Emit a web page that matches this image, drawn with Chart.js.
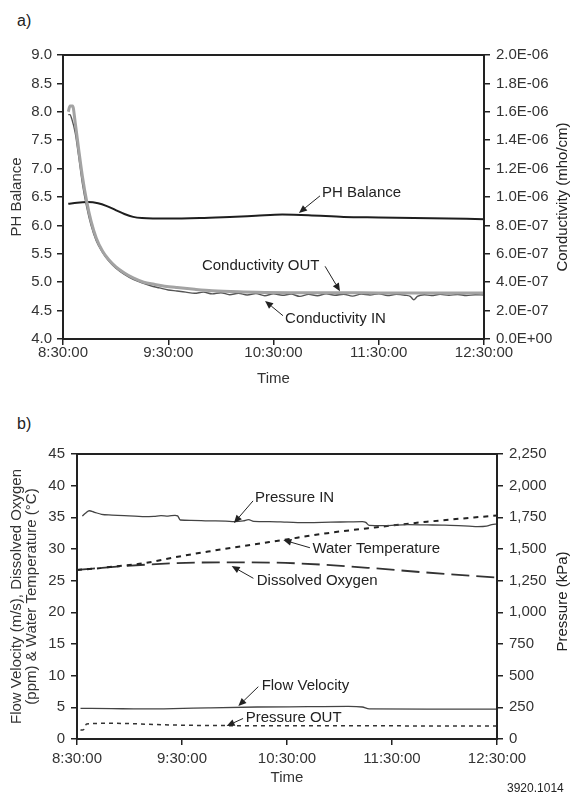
<!DOCTYPE html>
<html lang="en">
  <head>
    <meta charset="UTF-8" />
    <title>Water quality test run</title>
    <script src="https://cdn.jsdelivr.net/npm/chart.js"></script>
    <style>
      body { margin: 0; background: #fff; font-family: "Liberation Sans", Arial, sans-serif; color: #222; }
      .page { position: relative; width: 572px; height: 794px; overflow: hidden; }
      canvas { position: absolute; left: 0; }
      #chartA { top: 0; }
      #chartB { top: 395px; }
      .panel { position: absolute; left: 17px; font-size: 16px; line-height: 16px; }
      .code { position: absolute; left: 507px; top: 782px; font-size: 12px; line-height: 12px; white-space: nowrap; }
    </style>
  </head>
  <body>
    <div class="page">
      <div class="panel" style="top: 13px">a)</div>
      <canvas id="chartA" width="572" height="395"></canvas>
      <div class="panel" style="top: 416px">b)</div>
      <canvas id="chartB" width="572" height="399"></canvas>
      <div class="code">3920.1014</div>
    </div>

    <script>
      const FONT = "'Liberation Sans', Arial, sans-serif";

      // x values are minutes after 8:30:00
      const timeTickMinutes = [0, 60, 120, 180, 240];
      const timeTickLabels = ["8:30:00", "9:30:00", "10:30:00", "11:30:00", "12:30:00"];

      // ---- panel a ----
      const phMinutes = [3, 8, 14, 20, 25, 30, 35, 40, 45, 60, 78, 95, 110, 125, 140, 160, 180, 200, 220, 240];
      const phValues = [6.38, 6.4, 6.41, 6.39, 6.34, 6.27, 6.2, 6.15, 6.13, 6.12, 6.13, 6.15, 6.17, 6.19, 6.18, 6.15, 6.14, 6.13, 6.12, 6.11];

      // conductivity in 1E-06 mho/cm
      const condOutMinutes = [3, 4, 5.5, 7, 9, 11, 13.5, 16, 19, 22.5, 26, 30, 35, 40, 46, 52, 58, 65, 75, 85, 100, 115, 130, 150, 170, 190, 210, 225, 240];
      const condOutValues = [1.6, 1.64, 1.64, 1.52, 1.33, 1.15, 0.97, 0.83, 0.71, 0.62, 0.56, 0.51, 0.465, 0.43, 0.4, 0.385, 0.372, 0.362, 0.35, 0.34, 0.332, 0.328, 0.326, 0.325, 0.325, 0.324, 0.324, 0.324, 0.324];

      const condInMinutes = [3, 4, 5, 7, 9, 11, 13.5, 16, 19, 22.5, 26, 30, 35, 40, 45, 50, 55, 60, 65, 70, 75, 80, 85, 90, 95, 100, 105, 110, 115, 120, 125, 130, 135, 140, 145, 150, 155, 160, 165, 170, 175, 180, 185, 190, 195, 198, 200, 202, 206, 210, 215, 220, 225, 230, 235, 240];
      const condInValues = [1.58, 1.58, 1.55, 1.45, 1.28, 1.1, 0.93, 0.8, 0.69, 0.61, 0.55, 0.5, 0.455, 0.42, 0.395, 0.375, 0.36, 0.345, 0.338, 0.33, 0.322, 0.33, 0.318, 0.326, 0.312, 0.322, 0.31, 0.32, 0.305, 0.318, 0.308, 0.316, 0.3, 0.314, 0.305, 0.318, 0.308, 0.315, 0.302, 0.316, 0.31, 0.318, 0.306, 0.314, 0.308, 0.3, 0.276, 0.3, 0.312, 0.306, 0.314, 0.308, 0.313, 0.306, 0.312, 0.31];

      const condTickValues = [0, 2e-7, 4e-7, 6e-7, 8e-7, 1e-6, 1.2e-6, 1.4e-6, 1.6e-6, 1.8e-6, 2e-6];
      const condTickLabels = ["0.0E+00", "2.0E-07", "4.0E-07", "6.0E-07", "8.0E-07", "1.0E-06", "1.2E-06", "1.4E-06", "1.6E-06", "1.8E-06", "2.0E-06"];

      // ---- panel b ----
      const pInMinutes = [3, 5, 7, 10, 14, 20, 27, 33, 39, 44, 48, 52, 56, 57.5, 59, 65, 75, 85, 90, 95, 98, 101, 110, 120, 132, 145, 155, 163, 165, 167, 175, 189, 200, 210, 218, 224, 229, 234, 237, 240];
      const pInValues = [1760, 1785, 1802, 1790, 1774, 1768, 1763, 1760, 1755, 1758, 1763, 1760, 1766, 1762, 1729, 1726, 1722, 1720, 1716, 1722, 1732, 1718, 1716, 1712, 1708, 1712, 1714, 1716, 1710, 1686, 1684, 1692, 1690, 1688, 1684, 1680, 1676, 1680, 1692, 1697];

      const waterMinutes = [0, 10, 20, 37, 56, 75, 98, 117, 143, 170, 200, 240];
      const waterValues = [26.7, 26.9, 27.2, 27.7, 28.7, 29.6, 30.6, 31.4, 32.5, 33.4, 34.3, 35.3];

      const oxygenMinutes = [0, 27, 56, 85, 113, 142, 170, 199, 240];
      const oxygenValues = [26.7, 27.3, 27.75, 27.9, 27.85, 27.5, 26.95, 26.3, 25.5];

      const flowMinutes = [2, 20, 37, 55, 75, 103, 132, 155, 163, 167, 200, 240];
      const flowValues = [4.85, 4.8, 4.75, 4.8, 4.92, 5.05, 5.1, 5.15, 5.05, 4.75, 4.72, 4.72];

      const pOutMinutes = [2, 3.6, 5.5, 18, 56, 94, 150, 240];
      const pOutValues = [70, 72, 118, 124, 110, 105, 104, 103];

      function pts(xs, ys, k = 1) {
        return xs.map((x, i) => ({ x: x, y: ys[i] * k }));
      }

      function line(label, data, axis, color, width, dash) {
        return {
          label: label,
          data: data,
          yAxisID: axis,
          borderColor: color,
          borderWidth: width,
          borderDash: dash || [],
          pointRadius: 0,
          fill: false,
          cubicInterpolationMode: "monotone",
        };
      }

      // labels with arrows, drawn in data units of x and the left axis
      const notesPlugin = {
        id: "notes",
        afterDatasetsDraw(chart, args, opts) {
          const { ctx, scales, chartArea: ca } = chart;
          const xs = scales.x, ys = scales.y;
          ctx.save();
          ctx.font = "15px " + FONT;
          ctx.fillStyle = "#222";
          ctx.strokeStyle = "#222";
          ctx.lineWidth = 1;
          ctx.textBaseline = "middle";
          ctx.textAlign = "left";
          (opts.items || []).forEach((n) => {
            ctx.fillText(n.text, xs.getPixelForValue(n.at[0]), ys.getPixelForValue(n.at[1]));
            const x1 = xs.getPixelForValue(n.from[0]), y1 = ys.getPixelForValue(n.from[1]);
            const x2 = xs.getPixelForValue(n.to[0]), y2 = ys.getPixelForValue(n.to[1]);
            const a = Math.atan2(y2 - y1, x2 - x1);
            const hx = x2 - 8 * Math.cos(a), hy = y2 - 8 * Math.sin(a);
            ctx.beginPath();
            ctx.moveTo(x1, y1);
            ctx.lineTo(hx, hy);
            ctx.stroke();
            ctx.beginPath();
            ctx.moveTo(x2, y2);
            ctx.lineTo(hx + 3.5 * Math.sin(a), hy - 3.5 * Math.cos(a));
            ctx.lineTo(hx - 3.5 * Math.sin(a), hy + 3.5 * Math.cos(a));
            ctx.closePath();
            ctx.fill();
          });
          // box round the plot
          ctx.lineWidth = 2;
          ctx.strokeRect(ca.left, ca.top, ca.right - ca.left, ca.bottom - ca.top);
          // right axis title reads bottom to top
          if (opts.rightTitle) {
            ctx.translate(chart.width - 9.5, (ca.top + ca.bottom) / 2 + (opts.rightShift || 0));
            ctx.rotate(-Math.PI / 2);
            ctx.textAlign = "center";
            ctx.fillText(opts.rightTitle, 0, 0);
          }
          ctx.restore();
        },
      };

      const tickFont = { family: FONT, size: 15, lineHeight: 1 };
      const tickGrid = { drawOnChartArea: false, tickLength: 6, color: "#222", lineWidth: 1.5 };

      function timeAxis(height, pad) {
        return {
          type: "linear",
          min: 0,
          max: 240,
          afterBuildTicks: (s) => { s.ticks = timeTickMinutes.map((v) => ({ value: v })); },
          ticks: { callback: (v, i) => timeTickLabels[i], font: tickFont, color: "#333", padding: pad, maxRotation: 0, autoSkip: false },
          grid: tickGrid,
          border: { display: false },
          title: { display: true, text: "Time", font: tickFont, color: "#333", padding: { top: 0, bottom: 8.5 } },
          afterFit: (s) => { s.height = height; },
        };
      }

      new Chart(document.getElementById("chartA"), {
        type: "line",
        data: {
          datasets: [
            line("Conductivity OUT", pts(condOutMinutes, condOutValues, 1e-6), "y2", "#a3a3a3", 3),
            line("Conductivity IN", pts(condInMinutes, condInValues, 1e-6), "y2", "#555", 1.4),
            line("PH Balance", pts(phMinutes, phValues), "y", "#1e1e1e", 2),
          ],
        },
        options: {
          responsive: false,
          animation: false,
          layout: { padding: { top: 55, left: 0, right: 0, bottom: 0 } },
          plugins: {
            legend: { display: false },
            tooltip: { enabled: false },
            notes: {
              rightTitle: "Conductivity (mho/cm)",
              items: [
                { text: "PH Balance", at: [147.6, 6.57], from: [146.5, 6.52], to: [134.5, 6.22] },
                { text: "Conductivity OUT", at: [79.2, 5.29], from: [149.4, 5.28], to: [157.9, 4.84] },
                { text: "Conductivity IN", at: [126.6, 4.36], from: [125.4, 4.41], to: [115.2, 4.67] },
              ],
            },
          },
          scales: {
            x: timeAxis(56, 0.5),
            y: {
              position: "left",
              min: 4,
              max: 9,
              ticks: { stepSize: 0.5, callback: (v) => v.toFixed(1), font: tickFont, color: "#333", padding: 5 },
              grid: tickGrid,
              border: { display: false },
              title: { display: true, text: "PH Balance", font: tickFont, color: "#333", padding: { top: 9.5, bottom: 0 } },
              afterFit: (s) => { s.width = 63; },
            },
            y2: {
              position: "right",
              min: 0,
              max: 2e-6,
              afterBuildTicks: (s) => { s.ticks = condTickValues.map((v) => ({ value: v })); },
              ticks: { callback: (v, i) => condTickLabels[i], font: tickFont, color: "#333", padding: 6 },
              grid: tickGrid,
              border: { display: false },
              afterFit: (s) => { s.width = 88; },
            },
          },
        },
        plugins: [notesPlugin],
      });

      new Chart(document.getElementById("chartB"), {
        type: "line",
        data: {
          datasets: [
            line("Pressure IN", pts(pInMinutes, pInValues), "y2", "#444", 1.3),
            line("Water Temperature", pts(waterMinutes, waterValues), "y", "#222", 2, [5, 5]),
            line("Dissolved Oxygen", pts(oxygenMinutes, oxygenValues), "y", "#333", 1.8, [18, 7]),
            line("Flow Velocity", pts(flowMinutes, flowValues), "y", "#444", 1.3),
            line("Pressure OUT", pts(pOutMinutes, pOutValues), "y2", "#333", 1.5, [4, 4]),
          ],
        },
        options: {
          responsive: false,
          animation: false,
          layout: { padding: { top: 59, left: 0, right: 0, bottom: 0 } },
          plugins: {
            legend: { display: false },
            tooltip: { enabled: false },
            notes: {
              rightTitle: "Pressure (kPa)",
              rightShift: 5,
              items: [
                { text: "Pressure IN", at: [101.7, 38.0], from: [100.6, 37.6], to: [89.7, 34.1] },
                { text: "Water Temperature", at: [134.5, 29.95], from: [133.1, 30.2], to: [117.9, 31.42] },
                { text: "Dissolved Oxygen", at: [102.7, 24.95], from: [100.8, 25.37], to: [88.4, 27.3] },
                { text: "Flow Velocity", at: [105.5, 8.34], from: [103.6, 8.26], to: [92.2, 5.21] },
                { text: "Pressure OUT", at: [96.4, 3.27], from: [94.9, 3.24], to: [85.5, 2.05] },
              ],
            },
          },
          scales: {
            x: timeAxis(55, 6.5),
            y: {
              position: "left",
              min: 0,
              max: 45,
              ticks: { stepSize: 5, font: tickFont, color: "#333", padding: 6 },
              grid: tickGrid,
              border: { display: false },
              title: {
                display: true,
                text: ["Flow Velocity (m/s), Dissolved Oxygen", "(ppm) & Water Temperature (\u00B0C)"],
                font: tickFont,
                color: "#333",
                padding: { top: 9.5, bottom: 0 },
              },
              afterFit: (s) => { s.width = 77; },
            },
            y2: {
              position: "right",
              min: 0,
              max: 2250,
              ticks: { stepSize: 250, callback: (v) => v.toLocaleString("en-US"), font: tickFont, color: "#333", padding: 6 },
              grid: tickGrid,
              border: { display: false },
              afterFit: (s) => { s.width = 75; },
            },
          },
        },
        plugins: [notesPlugin],
      });
    </script>
  </body>
</html>
